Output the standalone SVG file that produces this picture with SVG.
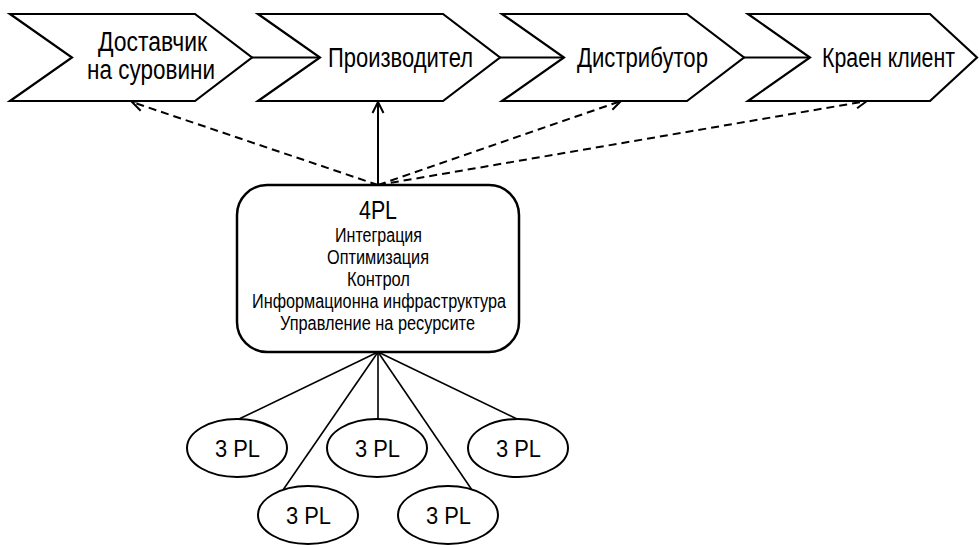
<svg xmlns="http://www.w3.org/2000/svg" width="979" height="545" viewBox="0 0 979 545">
<style>
text{font-family:"Liberation Sans",Arial,sans-serif;fill:#000;text-anchor:middle}
.chev{fill:#fff;stroke:#000;stroke-width:2.2;stroke-linejoin:miter}
.link{stroke:#000;stroke-width:2.2;fill:none}
.solid{stroke:#000;stroke-width:2;fill:none}
.dash{stroke:#000;stroke-width:2;fill:none;stroke-dasharray:8,5}
.thin{stroke:#000;stroke-width:1.6;fill:none}
.ell{fill:#fff;stroke:#000;stroke-width:2}
.lbl{font-size:27px}
.big{font-size:25px}
.sm{font-size:20px}
.pl{font-size:24px}
</style>
<defs>
<polygon id="chevron" points="0,0 185,0 242,43.5 185,87 0,87 62,43.5"/>
<marker id="arr" viewBox="0 0 14 14" refX="12.5" refY="7" markerWidth="14" markerHeight="14" markerUnits="userSpaceOnUse" orient="auto">
<path d="M1.5,1.5 L12.5,7 L1.5,12.5" fill="none" stroke="#000" stroke-width="2"/>
</marker>
</defs>
<rect width="979" height="545" fill="#fff"/>
<g id="connectors">
<line class="link" x1="252" y1="57.5" x2="320" y2="57.5"/>
<line class="link" x1="499" y1="57.5" x2="564" y2="57.5"/>
<line class="link" x1="743" y1="57.5" x2="810" y2="57.5"/>
<line class="solid" x1="378" y1="185" x2="378" y2="102" marker-end="url(#arr)"/>
<line class="dash" x1="378" y1="185" x2="132" y2="102" marker-end="url(#arr)"/>
<line class="dash" x1="378" y1="185" x2="621" y2="101" marker-end="url(#arr)"/>
<line class="dash" x1="378" y1="185" x2="867" y2="101" marker-end="url(#arr)"/>
<line class="thin" x1="378" y1="352" x2="239" y2="419"/>
<line class="thin" x1="378" y1="352" x2="378" y2="419"/>
<line class="thin" x1="378" y1="352" x2="517" y2="419"/>
<line class="thin" x1="378" y1="352" x2="283" y2="490"/>
<line class="thin" x1="378" y1="352" x2="472" y2="490"/>
</g>
<g id="supplier">
<use href="#chevron" class="chev" x="10" y="14"/>
<text class="lbl" x="152.5" y="51" textLength="109" lengthAdjust="spacingAndGlyphs">Доставчик</text>
<text class="lbl" x="151" y="79" textLength="128" lengthAdjust="spacingAndGlyphs">на суровини</text>
</g>
<g id="producer">
<use href="#chevron" class="chev" x="258" y="14"/>
<text class="lbl" x="400.5" y="67" textLength="145" lengthAdjust="spacingAndGlyphs">Производител</text>
</g>
<g id="distributor">
<use href="#chevron" class="chev" x="502" y="14"/>
<text class="lbl" x="642.5" y="67" textLength="131" lengthAdjust="spacingAndGlyphs">Дистрибутор</text>
</g>
<g id="customer">
<polygon class="chev" points="748,14 930,14 977,57.5 930,101 748,101 810,57.5"/>
<text class="lbl" x="888.5" y="67" textLength="133" lengthAdjust="spacingAndGlyphs">Краен клиент</text>
</g>
<g id="fourpl">
<rect x="237" y="185" width="282" height="167" rx="30" ry="30" fill="#fff" stroke="#000" stroke-width="2.5"/>
<text class="big" x="378" y="219" textLength="38" lengthAdjust="spacingAndGlyphs">4PL</text>
<text class="sm" x="378.5" y="242" textLength="87" lengthAdjust="spacingAndGlyphs">Интеграция</text>
<text class="sm" x="378" y="264" textLength="102" lengthAdjust="spacingAndGlyphs">Оптимизация</text>
<text class="sm" x="378.5" y="286" textLength="63" lengthAdjust="spacingAndGlyphs">Контрол</text>
<text class="sm" x="379" y="308" textLength="254" lengthAdjust="spacingAndGlyphs">Информационна инфраструктура</text>
<text class="sm" x="377.5" y="330" textLength="195" lengthAdjust="spacingAndGlyphs">Управление на ресурсите</text>
</g>
<g id="tpl1">
<ellipse class="ell" cx="237" cy="448" rx="50" ry="29"/>
<text class="pl" x="237.5" y="457" textLength="45" lengthAdjust="spacingAndGlyphs">3 PL</text>
</g>
<g id="tpl2">
<ellipse class="ell" cx="377" cy="448" rx="50" ry="29"/>
<text class="pl" x="377.5" y="457" textLength="45" lengthAdjust="spacingAndGlyphs">3 PL</text>
</g>
<g id="tpl3">
<ellipse class="ell" cx="518" cy="448" rx="50" ry="29"/>
<text class="pl" x="518.5" y="457" textLength="45" lengthAdjust="spacingAndGlyphs">3 PL</text>
</g>
<g id="tpl4">
<ellipse class="ell" cx="308" cy="515" rx="50" ry="29"/>
<text class="pl" x="308.5" y="524" textLength="45" lengthAdjust="spacingAndGlyphs">3 PL</text>
</g>
<g id="tpl5">
<ellipse class="ell" cx="448" cy="515" rx="50" ry="29"/>
<text class="pl" x="448.5" y="524" textLength="45" lengthAdjust="spacingAndGlyphs">3 PL</text>
</g>
</svg>
